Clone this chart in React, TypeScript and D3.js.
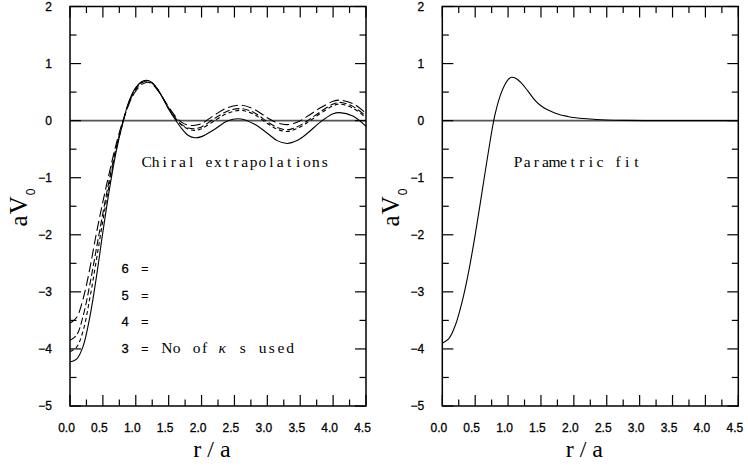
import React from "react";
import * as d3 from "d3";

// ---- data ----
const R_GRID = [0, 0.1, 0.2, 0.3, 0.4, 0.5, 0.6, 0.7, 0.8, 0.9, 1.0, 1.1, 1.2, 1.3, 1.4, 1.5, 1.6, 1.7, 1.8, 1.9, 2.0, 2.2, 2.4, 2.6, 2.8, 3.0, 3.15, 3.3, 3.45, 3.6, 3.8, 4.0, 4.1, 4.3, 4.5];
const K3 = [-4.23, -4.18, -3.95, -3.45, -2.75, -1.95, -1.2, -0.55, -0.05, 0.35, 0.58, 0.69, 0.70, 0.6, 0.42, 0.2, 0.02, -0.14, -0.26, -0.3, -0.28, -0.15, 0.0, 0.03, -0.06, -0.22, -0.35, -0.4, -0.35, -0.23, -0.03, 0.12, 0.14, 0.08, -0.1];
const K4 = [-4.05, -3.97, -3.68, -3.12, -2.45, -1.75, -1.1, -0.52, -0.05, 0.33, 0.57, 0.68, 0.7, 0.6, 0.42, 0.21, 0.04, -0.08, -0.15, -0.17, -0.14, 0.0, 0.13, 0.18, 0.11, -0.05, -0.15, -0.19, -0.14, -0.04, 0.12, 0.26, 0.29, 0.22, 0.05];
const K5 = [-3.85, -3.76, -3.42, -2.88, -2.25, -1.62, -1.02, -0.48, -0.04, 0.32, 0.55, 0.67, 0.69, 0.6, 0.42, 0.22, 0.05, -0.07, -0.13, -0.14, -0.11, 0.04, 0.17, 0.21, 0.14, -0.02, -0.12, -0.16, -0.11, -0.01, 0.15, 0.29, 0.32, 0.25, 0.08];
const K6 = [-3.55, -3.45, -3.12, -2.6, -1.98, -1.42, -0.9, -0.42, -0.02, 0.3, 0.52, 0.64, 0.67, 0.58, 0.42, 0.24, 0.08, -0.03, -0.08, -0.08, -0.05, 0.1, 0.23, 0.27, 0.2, 0.05, -0.04, -0.07, -0.03, 0.07, 0.22, 0.34, 0.36, 0.3, 0.13];

const R_FIT = [0, 0.1, 0.2, 0.3, 0.4, 0.5, 0.6, 0.7, 0.8, 0.9, 1.0, 1.05, 1.1, 1.2, 1.3, 1.4, 1.5, 1.6, 1.7, 1.8, 1.9, 2.0, 2.2, 2.5, 2.8, 3.2, 3.6, 4.0, 4.5];
const V_FIT = [-3.9, -3.82, -3.58, -3.18, -2.65, -2.0, -1.28, -0.55, 0.1, 0.5, 0.72, 0.76, 0.75, 0.66, 0.52, 0.37, 0.26, 0.19, 0.14, 0.1, 0.075, 0.055, 0.032, 0.012, 0.004, 0.0, 0.0, 0.0, 0.0];

const X_TICKS = [0, 0.5, 1, 1.5, 2, 2.5, 3, 3.5, 4, 4.5];
const X_LABELS = ["0.0", "0.5", "1.0", "1.5", "2.0", "2.5", "3.0", "3.5", "4.0", "4.5"];
const Y_TICKS = [-5, -4, -3, -2, -1, 0, 1, 2];
const LEGEND_N = ["6", "5", "4", "3"];

const SERIES = [
  { name: "3", values: K3, dash: "" },
  { name: "4", values: K4, dash: "4,3" },
  { name: "5", values: K5, dash: "7,3" },
  { name: "6", values: K6, dash: "10,4" },
];

const TOP = 6.5;
const BOTTOM = 406;
const SANS = "'Liberation Sans', Arial, sans-serif";
const SERIF = "'Liberation Serif', 'Times New Roman', serif";

function Panel({ x0, x1, children }: { x0: number; x1: number; children: (x: any, y: any) => React.ReactNode }) {
  const x = d3.scaleLinear().domain([0, 4.5]).range([x0, x1]);
  const y = d3.scaleLinear().domain([-5, 2]).range([BOTTOM, TOP]);
  const xMinor = d3.range(0, 4.5001, 0.25);
  const yMinor = d3.range(-5, 2.0001, 0.5);
  const isMajorX = (v: number) => Math.abs(v * 2 - Math.round(v * 2)) < 1e-6;
  const isMajorY = (v: number) => Math.abs(v - Math.round(v)) < 1e-6;
  const MJ = 11, MN = 6.5;
  return (
    <g>
      <line x1={x0} x2={x1} y1={y(0)} y2={y(0)} stroke="#555" strokeWidth={1.6} />
      {children(x, y)}
      <rect x={x0} y={TOP} width={x1 - x0} height={BOTTOM - TOP} fill="none" stroke="#000" strokeWidth={1.5} />
      {xMinor.map((v, i) => {
        const L = isMajorX(v) ? MJ : MN;
        return (
          <g key={"xt" + i}>
            <line x1={x(v)} x2={x(v)} y1={BOTTOM} y2={BOTTOM - L} stroke="#000" strokeWidth={1.2} />
            <line x1={x(v)} x2={x(v)} y1={TOP} y2={TOP + L} stroke="#000" strokeWidth={1.2} />
          </g>
        );
      })}
      {yMinor.map((v, i) => {
        const L = isMajorY(v) ? MJ : MN;
        return (
          <g key={"yt" + i}>
            <line x1={x0} x2={x0 + L} y1={y(v)} y2={y(v)} stroke="#000" strokeWidth={1.2} />
            <line x1={x1} x2={x1 - L} y1={y(v)} y2={y(v)} stroke="#000" strokeWidth={1.2} />
          </g>
        );
      })}
      {X_TICKS.map((v, i) => (
        <text key={"xl" + i} x={x(v) - 3.5} y={432} textAnchor="middle" fontFamily={SANS} fontSize={12} fill="#000" stroke="#000" strokeWidth={0.3}>
          {X_LABELS[i]}
        </text>
      ))}
      {Y_TICKS.map((v, i) => (
        <text key={"yl" + i} x={x0 - 18} y={y(v) + 4.3} textAnchor="end" fontFamily={SANS} fontSize={12} fill="#000" stroke="#000" strokeWidth={0.3}>
          {v < 0 ? "\u2212" + Math.abs(v) : String(v)}
        </text>
      ))}
      <text x={(x0 + x1) / 2 - 3} y={457} textAnchor="middle" fontFamily={SERIF} fontSize={24} fill="#000" letterSpacing={6}>
        r/a
      </text>
      <g transform={`translate(${x0 - 43},${207}) rotate(-90)`}>
        <text x={0} y={0} textAnchor="middle" fontFamily={SERIF} fontSize={25} fill="#000" letterSpacing={1}>
          aV<tspan fontFamily={SANS} fontSize={12} dy={8}>0</tspan>
        </text>
      </g>
    </g>
  );
}

// serif glyphs placed on a fixed-pitch grid (typewriter-like look of the reference)
function MonoLabel({ x, y, text, cell = 9, italic }: { x: number; y: number; text: string; cell?: number; italic?: boolean }) {
  const chars = Array.from(text);
  const xs = chars.map((_, i) => (x + i * cell + cell / 2).toFixed(2)).join(" ");
  return (
    <text x={xs} y={y} textAnchor="middle" fontFamily={SERIF} fontSize={15.5} fontStyle={italic ? "italic" : "normal"} fill="#000">
      {text}
    </text>
  );
}

export default function App() {
  const legendY = [273, 299.5, 326, 352.5];
  return (
    <svg width={748} height={468} style={{ position: "absolute", left: 0, top: 0, background: "#fff" }}>
      <rect x={0} y={0} width={748} height={468} fill="#fff" />
      <Panel x0={70} x1={366}>
        {(x, y) => {
          const line = d3
            .line<number>()
            .x((_, i) => x(R_GRID[i]))
            .y((d) => y(d))
            .curve(d3.curveCatmullRom.alpha(0.5));
          return (
            <g>
              {SERIES.map((s) => (
                <path key={s.name} d={line(s.values) || ""} fill="none" stroke="#000" strokeWidth={1.1} strokeDasharray={s.dash} />
              ))}
              <MonoLabel x={142.3} y={166.5} text="Chiral extrapolations" cell={8.9} />
              {LEGEND_N.map((n, i) => (
                <g key={"lg" + n}>
                  <text x={121.5} y={legendY[i]} fontFamily={SANS} fontSize={13} fill="#000" stroke="#000" strokeWidth={0.3}>
                    {n}
                  </text>
                  <text x={141} y={legendY[i]} fontFamily={SANS} fontSize={13} fill="#000">
                    =
                  </text>
                </g>
              ))}
              <MonoLabel x={162} y={legendY[3]} text="No" cell={9.7} />
              <MonoLabel x={192.5} y={legendY[3]} text="of" cell={8} />
              <MonoLabel x={217.5} y={legendY[3]} text="κ" cell={9.5} italic />
              <MonoLabel x={238.5} y={legendY[3]} text="s" cell={8.5} />
              <MonoLabel x={258} y={legendY[3]} text="used" cell={9.2} />
            </g>
          );
        }}
      </Panel>
      <Panel x0={442.3} x1={738.3}>
        {(x, y) => {
          const line = d3
            .line<number>()
            .x((_, i) => x(R_FIT[i]))
            .y((d) => y(d))
            .curve(d3.curveCatmullRom.alpha(0.5));
          return (
            <g>
              <path d={line(V_FIT) || ""} fill="none" stroke="#000" strokeWidth={1.1} />
              <MonoLabel x={513.5} y={166.5} text="Parametric fit" cell={9.1} />
            </g>
          );
        }}
      </Panel>
    </svg>
  );
}
